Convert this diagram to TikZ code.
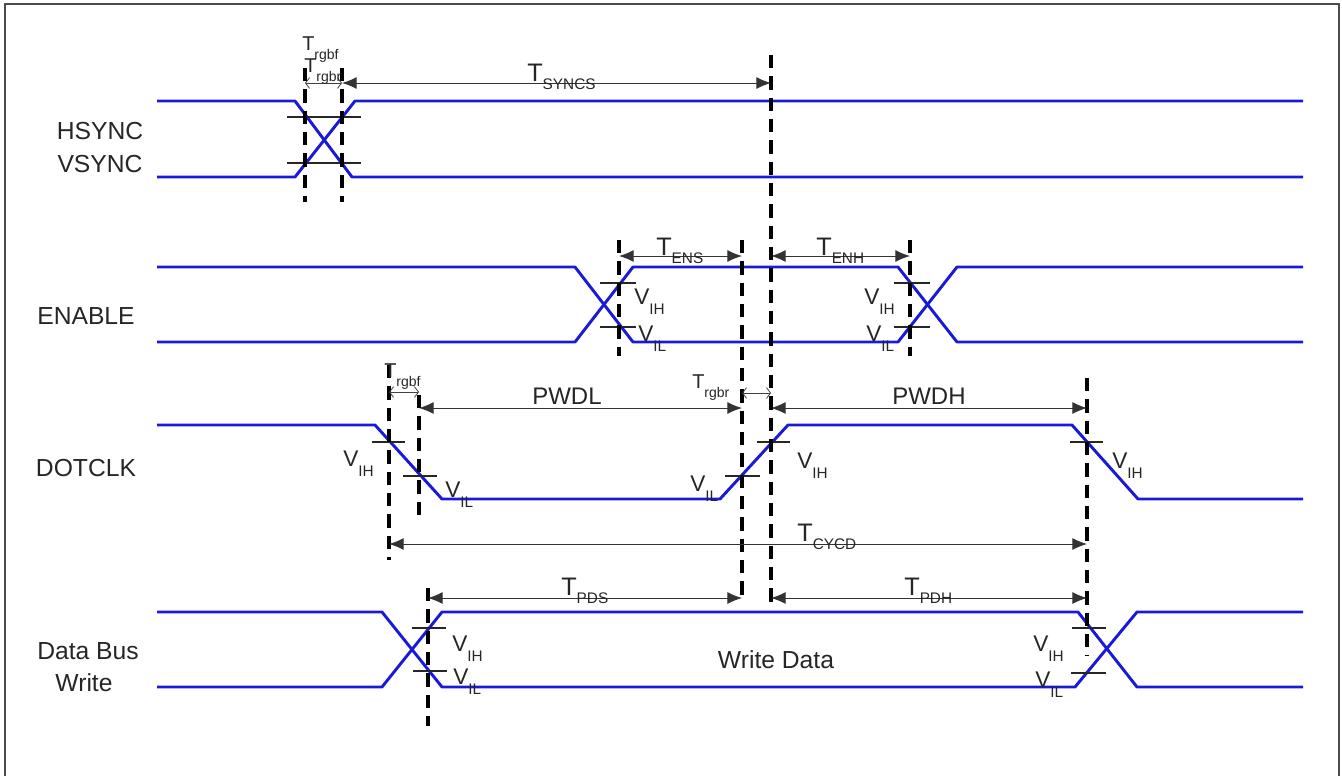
\documentclass[tikz,border=0pt]{standalone}
\usepackage{fontspec}
\setmainfont{Liberation Sans}
\usetikzlibrary{arrows.meta}
\definecolor{wave}{RGB}{25,25,215}
\newcommand\VV[2]{{\fontsize{17}{17}\selectfont #1}\raisebox{-7.5pt}{\fontsize{11.5}{11.5}\selectfont #2}}
\newcommand\TT[2]{{\fontsize{19}{19}\selectfont #1}\raisebox{-6pt}{\fontsize{11.5}{11.5}\selectfont #2}}
\newcommand\TS[2]{{\fontsize{15}{15}\selectfont #1}\raisebox{-7pt}{\fontsize{10.5}{10.5}\selectfont #2}}
\tikzset{
  wv/.style={draw=wave, line width=2.2pt, line join=round},
  tick/.style={draw=black!85, line width=0.9pt},
  dl/.style={draw=black, line width=2.8pt, dash pattern=on 10pt off 6pt},
  dim/.style={draw=black!80, line width=0.75pt, {Latex[length=11pt,width=9pt]}-{Latex[length=11pt,width=9pt]}},
  sdim/.style={draw=black!75, line width=0.6pt, {Straight Barb[length=3pt,width=8pt]}-{Straight Barb[length=3pt,width=8pt]}},
  lab/.style={inner sep=0pt, anchor=base west, text=black!85},
  big/.style={inner sep=0pt, anchor=base, text=black!85, font=\fontsize{18.5}{18.5}\selectfont},
}
\begin{document}
\begin{tikzpicture}[x=0.75pt,y=-0.75pt]
\useasboundingbox (0,0) rectangle (1342,776);
% frame
\draw[black!70, line width=1.5pt] (5,776) -- (5,4) -- (1339,4) -- (1339,776);

% signal names
\node[big] (hs) at (100,139) {HSYNC};
\node[big] (vs) at (100,172) {VSYNC};
\node[big] (en) at (86,324) {ENABLE};
\node[big] (dc) at (86,476) {DOTCLK};
\node[big] (db) at (88,659) {Data Bus};
\node[big] (wr) at (84,691) {Write};
\node[big] (wd) at (776,668) {Write Data};

% waveforms
\draw[wv] (157,101) -- (295,101) -- (352,177) -- (1303,177);
\draw[wv] (157,177) -- (295,177) -- (355,101) -- (1303,101);
\draw[wv] (157,267) -- (575,267) -- (633,342) -- (898,342) -- (957,267) -- (1303,267);
\draw[wv] (157,342) -- (575,342) -- (633,267) -- (898,267) -- (957,342) -- (1303,342);
\draw[wv] (157,425) -- (375,425) -- (442,499) -- (720,499) -- (788,425) -- (1072,425) -- (1138,499) -- (1303,499);
\draw[wv] (157,612) -- (382,612) -- (442,687) -- (1075,687) -- (1137,612) -- (1303,612);
\draw[wv] (157,687) -- (382,687) -- (442,612) -- (1078,612) -- (1137,687) -- (1303,687);

% threshold ticks
\draw[tick] (287,117) -- (361,117);
\draw[tick] (287,163) -- (361,163);
\draw[tick] (600,283) -- (636,283);
\draw[tick] (600,327) -- (636,327);
\draw[tick] (894,283) -- (930,283);
\draw[tick] (894,327) -- (930,327);
\draw[tick] (372,442) -- (405,442);
\draw[tick] (403,476) -- (437,476);
\draw[tick] (725,476) -- (760,476);
\draw[tick] (757,442) -- (790,442);
\draw[tick] (1070,442) -- (1103,442);
\draw[tick] (412,628) -- (446,628);
\draw[tick] (413,671) -- (447,671);
\draw[tick] (1072,628) -- (1106,628);
\draw[tick] (1071,673) -- (1106,673);

% dashed reference lines
\coordinate (d1t) at (305,68);  \coordinate (d1b) at (305,202);
\coordinate (d2t) at (342,68);  \coordinate (d2b) at (342,202);
\coordinate (d3t) at (771,55);  \coordinate (d3b) at (771,605);
\coordinate (d4t) at (619,240); \coordinate (d4b) at (619,356);
\coordinate (d5t) at (742,240); \coordinate (d5b) at (742,595);
\coordinate (d6t) at (910,240); \coordinate (d6b) at (910,356);
\coordinate (d7t) at (389,365); \coordinate (d7b) at (389,560);
\coordinate (d8t) at (419,395); \coordinate (d8b) at (419,520);
\coordinate (d9t) at (1087,378); \coordinate (d9b) at (1087,656);
\coordinate (d10t) at (428,588); \coordinate (d10b) at (428,726);
\foreach \i in {1,...,10} \draw[dl] (d\i t) -- (d\i b);

% dimension arrows
\coordinate (a1) at (305,83);  \coordinate (a2) at (342,83);  \coordinate (a3) at (771,83);
\coordinate (b1) at (619,256); \coordinate (b2) at (742,256);
\coordinate (b3) at (771,256); \coordinate (b4) at (910,256);
\coordinate (c1) at (389,392); \coordinate (c2) at (419,392);
\coordinate (c3) at (419,408); \coordinate (c4) at (742,408);
\coordinate (c5) at (742,393); \coordinate (c6) at (771,393);
\coordinate (c7) at (771,408); \coordinate (c8) at (1087,408);
\coordinate (e1) at (389,544); \coordinate (e2) at (1087,544);
\coordinate (f1) at (428,598); \coordinate (f2) at (742,598);
\coordinate (f3) at (771,598); \coordinate (f4) at (1087,598);
\draw[sdim] (a1) -- (a2);
\draw[dim] (a2) -- (a3);
\draw[dim] (b1) -- (b2);
\draw[dim] (b3) -- (b4);
\draw[sdim] (c1) -- (c2);
\draw[dim] (c3) -- (c4);
\draw[sdim] (c5) -- (c6);
\draw[dim] (c7) -- (c8);
\draw[dim] (e1) -- (e2);
\draw[dim] (f1) -- (f2);
\draw[dim] (f3) -- (f4);

% timing labels
\node[lab] (trf1) at (302,50) {\TS{T}{rgbf}};
\node[lab] (trr1) at (304,72) {\TS{T}{rgbr}};
\node[lab] (tsy) at (527,81) {\TT{T}{SYNCS}};
\node[lab] (tens) at (656,255) {\TT{T}{ENS}};
\node[lab] (tenh) at (816,255) {\TT{T}{ENH}};
\node[lab] (trf2) at (384,377) {\TS{T}{rgbf}};
\node[lab] (trr2) at (692,388) {\TS{T}{rgbr}};
\node[lab, font=\fontsize{18}{18}\selectfont] (pwdl) at (532,404) {PWDL};
\node[lab, font=\fontsize{18}{18}\selectfont] (pwdh) at (892,404) {PWDH};
\node[lab] (tcy) at (797,541) {\TT{T}{CYCD}};
\node[lab] (tpds) at (561,595) {\TT{T}{PDS}};
\node[lab] (tpdh) at (904,595) {\TT{T}{PDH}};

% threshold labels
\node[lab] (v1) at (634,304) {\VV{V}{IH}};
\node[lab] (v2) at (638,341) {\VV{V}{IL}};
\node[lab] (v3) at (864,304) {\VV{V}{IH}};
\node[lab] (v4) at (866,341) {\VV{V}{IL}};
\node[lab] (v5) at (343,466) {\VV{V}{IH}};
\node[lab] (v6) at (445,497) {\VV{V}{IL}};
\node[lab] (v7) at (690,491) {\VV{V}{IL}};
\node[lab] (v8) at (797,468) {\VV{V}{IH}};
\node[lab] (v9) at (1112,468) {\VV{V}{IH}};
\node[lab] (v10) at (452,651) {\VV{V}{IH}};
\node[lab] (v11) at (453,684) {\VV{V}{IL}};
\node[lab] (v12) at (1033,651) {\VV{V}{IH}};
\node[lab] (v13) at (1035,687) {\VV{V}{IL}};
\end{tikzpicture}
\end{document}
